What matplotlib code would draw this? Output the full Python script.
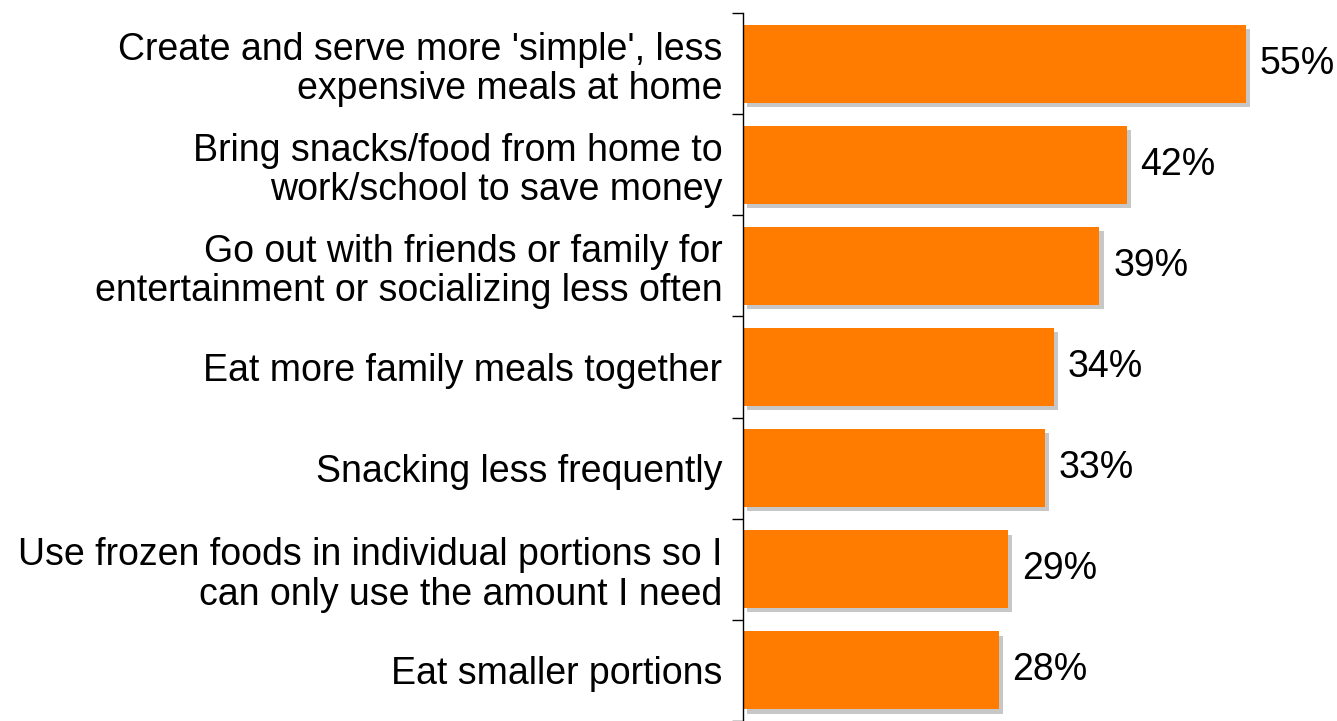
import matplotlib
matplotlib.use("Agg")
import matplotlib.pyplot as plt
import matplotlib.patheffects as pe
import numpy as np

labels = [
    "Create and serve more 'simple', less\nexpensive meals at home",
    "Bring snacks/food from home to\nwork/school to save money",
    "Go out with friends or family for\nentertainment or socializing less often",
    "Eat more family meals together",
    "Snacking less frequently",
    "Use frozen foods in individual portions so I\ncan only use the amount I need",
    "Eat smaller portions",
]
values = [55, 42, 39, 34, 33, 29, 28]

plt.rcParams["font.family"] = ["Liberation Sans", "DejaVu Sans"]

fig = plt.figure(figsize=(13.37, 7.21), dpi=100)
ax = fig.add_axes([743 / 1337, 0.0, 1 - 743 / 1337, (721 - 13) / 721])

y = np.arange(len(values))
bars = ax.barh(y, values, height=0.77, color="#FF7C00", edgecolor="none")
for b in bars:
    b.set_path_effects([pe.SimplePatchShadow(offset=(3, -3), shadow_rgbFace="#999999", alpha=0.55),
                        pe.Normal()])

for yi, v in zip(y, values):
    ax.text(v + 1.5, yi, f"{v}%", va="center", ha="left", fontsize=27)

ax.set_ylim(len(values) - 0.5, -0.5)
ax.set_xlim(0, 65)
ax.set_yticks(y)
ax.set_yticklabels(labels, fontsize=27, ha="right", linespacing=1.12)
ax.tick_params(axis="y", which="major", length=0, pad=15)
ax.set_yticks(np.arange(len(values) + 1) - 0.5, minor=True)
ax.tick_params(axis="y", which="minor", length=8, width=1)
ax.set_xticks([])
for s in ["top", "right", "bottom"]:
    ax.spines[s].set_visible(False)
ax.spines["left"].set_linewidth(1)

fig.savefig("out.png", dpi=100)
